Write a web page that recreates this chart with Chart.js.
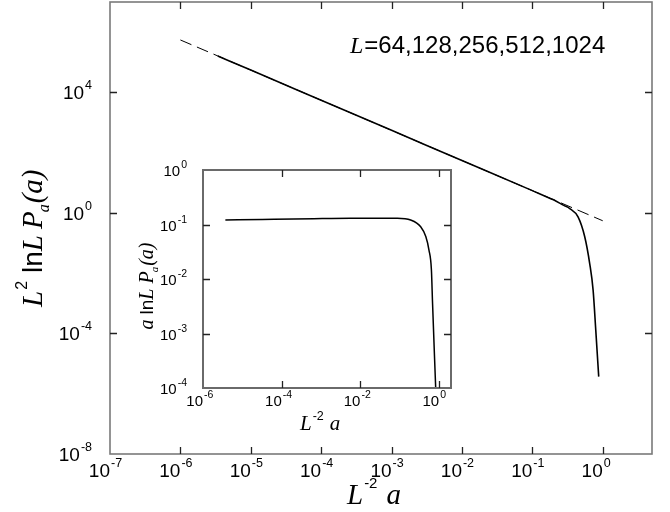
<!DOCTYPE html>
<html>
<head>
<meta charset="utf-8">
<script src="https://cdn.jsdelivr.net/npm/chart.js"></script>
<style>
  html, body { margin: 0; padding: 0; background: #fff; }
  #wrap { position: relative; width: 670px; height: 512px; overflow: hidden; }
  #main { position: absolute; left: 0; top: 0; }
  #inset { position: absolute; left: 120px; top: 160px; }
</style>
</head>
<body>
<div id="wrap">
  <canvas id="main" width="670" height="512"></canvas>
  <canvas id="inset" width="340" height="280"></canvas>
</div>
<script>
// Main panel: collapsed distribution L^2 lnL P_a(a) against L^-2 a
const refLineX = [1e-6, 1];            // dashed power-law guide
const refLineY = [5.5e5, 0.55];
const collapseX = [3.4e-6, 1e-5, 1e-4, 1e-3, 1e-2, 0.1, 0.2, 0.28, 0.34, 0.446, 0.555, 0.653, 0.73, 0.796, 0.877];
const collapseY = [1.62e5, 5.5e4, 5.5e3, 550, 55, 5.5, 2.72, 1.78, 1.40, 0.74, 0.162, 0.0209, 2.75e-3, 1.32e-4, 3.7e-6];

// Inset: a lnL P_a(a) against L^-2 a
const insetX = [3.7e-6, 3.2e-5, 6.5e-4, 5.6e-3, 0.087, 0.188, 0.339, 0.457, 0.55, 0.634, 0.679, 0.755, 0.815];
const insetY = [0.121, 0.124, 0.128, 0.13, 0.13, 0.121, 0.091, 0.060, 0.034, 0.0148, 3.5e-3, 4.3e-4, 1e-4];

// Decade exponents used for tick labels
const mainXTickExp = [-7, -6, -5, -4, -3, -2, -1, 0];
const mainYTickExp = [-8, -4, 0, 4];
const insetXTickExp = [-6, -4, -2, 0];
const insetYTickExp = [-4, -3, -2, -1, 0];

const systemSizes = '=64,128,256,512,1024';

const SANS = '"Liberation Sans", Arial, sans-serif';
const SERIF = '"Liberation Serif", "Times New Roman", serif';

function pts(xs, ys) { return xs.map((x, i) => ({ x: x, y: ys[i] })); }

// Draw a sequence of text runs: [text, font, dy, gapAfter]
function drawRuns(ctx, runs, x, y, align) {
  let total = 0;
  const widths = runs.map(r => {
    ctx.font = r[1];
    const w = ctx.measureText(r[0]).width;
    total += w + (r[3] || 0);
    return w;
  });
  let cx = align === 'center' ? x - total / 2 : (align === 'right' ? x - total : x);
  ctx.textAlign = 'left';
  ctx.textBaseline = 'alphabetic';
  runs.forEach((r, i) => {
    ctx.font = r[1];
    ctx.fillText(r[0], cx, y + (r[2] || 0));
    cx += widths[i] + (r[3] || 0);
  });
}

function powerLabel(ctx, exp, x, y, baseFont, expFont, expRise, mode) {
  // mode 'x': "10" right edge at x; mode 'y': whole label right edge at x
  ctx.textBaseline = 'alphabetic';
  ctx.font = baseFont;
  const bw = ctx.measureText('10').width;
  ctx.font = expFont;
  const ew = ctx.measureText(String(exp)).width;
  let bx = mode === 'x' ? x - bw : x - bw - ew - 1;
  ctx.textAlign = 'left';
  ctx.font = baseFont;
  ctx.fillText('10', bx, y);
  ctx.font = expFont;
  ctx.fillText(String(exp), bx + bw + 1, y - expRise);
}

function framePlugin(cfg) {
  return {
    id: 'frame_' + cfg.name,
    beforeDatasetsDraw(chart) {
      const a = chart.chartArea, ctx = chart.ctx;
      ctx.save();
      ctx.fillStyle = '#fff';
      ctx.fillRect(a.left, a.top, a.right - a.left, a.bottom - a.top);
      ctx.restore();
    },
    afterDatasetsDraw(chart) {
      const a = chart.chartArea, ctx = chart.ctx;
      const xs = chart.scales.x, ys = chart.scales.y;
      ctx.save();
      // frame
      ctx.strokeStyle = cfg.frameColor;
      ctx.lineWidth = cfg.frameWidth;
      ctx.strokeRect(a.left, a.top, a.right - a.left, a.bottom - a.top);
      // inward ticks
      ctx.strokeStyle = '#222';
      ctx.lineWidth = 1.3;
      ctx.beginPath();
      cfg.xTickExp.forEach(e => {
        const px = Math.round(xs.getPixelForValue(Math.pow(10, e))) + 0.5;
        if (px <= a.left + 2 || px >= a.right - 2) return;
        ctx.moveTo(px, a.bottom); ctx.lineTo(px, a.bottom - cfg.tickLen);
        ctx.moveTo(px, a.top); ctx.lineTo(px, a.top + cfg.tickLen);
      });
      cfg.yTickMarks.forEach(e => {
        const py = Math.round(ys.getPixelForValue(Math.pow(10, e))) + 0.5;
        if (py <= a.top + 2 || py >= a.bottom - 2) return;
        ctx.moveTo(a.left, py); ctx.lineTo(a.left + cfg.tickLen, py);
        ctx.moveTo(a.right, py); ctx.lineTo(a.right - cfg.tickLen, py);
      });
      ctx.stroke();
      // tick labels
      ctx.fillStyle = '#000';
      cfg.xLabelExp.forEach(e => {
        const px = xs.getPixelForValue(Math.pow(10, e));
        powerLabel(ctx, e, px, a.bottom + cfg.xLabelOffset, cfg.baseFont, cfg.expFont, cfg.expRise, 'x');
      });
      cfg.yLabelExp.forEach(e => {
        const py = ys.getPixelForValue(Math.pow(10, e));
        powerLabel(ctx, e, a.left - cfg.yLabelGap, py + cfg.yLabelShift, cfg.baseFont, cfg.expFont, cfg.expRise, 'y');
      });
      if (cfg.extra) cfg.extra(ctx, a);
      ctx.restore();
    }
  };
}

const hidden = { ticks: { display: false }, grid: { display: false }, border: { display: false } };

// ---------- main panel ----------
new Chart(document.getElementById('main'), {
  type: 'line',
  data: {
    datasets: [
      { data: pts(refLineX, refLineY), borderColor: '#000', borderWidth: 1, borderDash: [12, 6],
        pointRadius: 0, fill: false, tension: 0 },
      { data: pts(collapseX, collapseY), borderColor: '#000', borderWidth: 1.6,
        pointRadius: 0, fill: false, cubicInterpolationMode: 'monotone' }
    ]
  },
  options: {
    responsive: false, animation: false, devicePixelRatio: 1,
    layout: { padding: { top: 2, right: 18, left: 0, bottom: 0 } },
    plugins: { legend: { display: false }, tooltip: { enabled: false } },
    scales: {
      x: Object.assign({ type: 'logarithmic', min: 1e-7, max: Math.pow(10, 0.7),
        afterFit(s) { s.height = 58; } }, hidden),
      y: Object.assign({ type: 'logarithmic', min: 1e-8, max: 1e7,
        afterFit(s) { s.width = 110; } }, hidden)
    }
  },
  plugins: [framePlugin({
    name: 'main', frameColor: '#7a7a7a', frameWidth: 1.6, tickLen: 7,
    xTickExp: mainXTickExp, yTickMarks: [-4, 0, 4],
    xLabelExp: mainXTickExp, yLabelExp: mainYTickExp,
    baseFont: '19px ' + SANS, expFont: '12.5px ' + SANS, expRise: 10,
    xLabelOffset: 23, yLabelGap: 18, yLabelShift: 7,
    extra(ctx, a) {
      // series label
      drawRuns(ctx, [['L', 'italic 24px ' + SERIF, 0, 1], [systemSizes, '24px ' + SANS, 0, 0]], 350, 53, 'left');
      // x-axis title
      drawRuns(ctx, [['L', 'italic 29px ' + SERIF, 0, 1], ['-2', '15px ' + SANS, -16, 9], ['a', 'italic 29px ' + SERIF, 0, 0]], 347, 504, 'left');
      // y-axis title (rotated)
      ctx.save();
      ctx.translate(42, 307);
      ctx.rotate(-Math.PI / 2);
      drawRuns(ctx, [
        ['L', 'italic 29px ' + SERIF, 0, 1],
        ['2', '16px ' + SANS, -15, 8],
        ['ln', '28px ' + SANS, 0, 0],
        ['L', 'italic 29px ' + SERIF, 0, 6],
        ['P', 'italic 29px ' + SERIF, 0, -1],
        ['a', 'italic 16px ' + SERIF, 7, 1],
        ['(a)', 'italic 29px ' + SERIF, 0, 0]
      ], 0, 0, 'left');
      ctx.restore();
    }
  })]
});

// ---------- inset ----------
new Chart(document.getElementById('inset'), {
  type: 'line',
  data: {
    datasets: [
      { data: pts(insetX, insetY), borderColor: '#000', borderWidth: 1.5,
        pointRadius: 0, fill: false, cubicInterpolationMode: 'monotone' }
    ]
  },
  options: {
    responsive: false, animation: false, devicePixelRatio: 1,
    layout: { padding: { top: 10, right: 9, left: 0, bottom: 0 } },
    plugins: { legend: { display: false }, tooltip: { enabled: false } },
    scales: {
      x: Object.assign({ type: 'logarithmic', min: 1e-6, max: Math.pow(10, 0.3),
        afterFit(s) { s.height = 52; } }, hidden),
      y: Object.assign({ type: 'logarithmic', min: 1e-4, max: 1,
        afterFit(s) { s.width = 83; } }, hidden)
    }
  },
  plugins: [framePlugin({
    name: 'inset', frameColor: '#6a6a6a', frameWidth: 2, tickLen: 7,
    xTickExp: insetXTickExp, yTickMarks: [-3, -2, -1],
    xLabelExp: insetXTickExp, yLabelExp: insetYTickExp,
    baseFont: '15px ' + SANS, expFont: '10.5px ' + SANS, expRise: 8,
    xLabelOffset: 18, yLabelGap: 16, yLabelShift: 6,
    extra(ctx, a) {
      // x-axis title
      drawRuns(ctx, [['L', 'italic 21px ' + SERIF, 0, 1], ['-2', '12.5px ' + SANS, -10, 6], ['a', 'italic 21px ' + SERIF, 0, 0]], 180, 270, 'left');
      // y-axis title (rotated)
      ctx.save();
      ctx.translate(33, 126);
      ctx.rotate(-Math.PI / 2);
      drawRuns(ctx, [
        ['a', 'italic 20px ' + SERIF, 0, 5],
        ['ln', '19px ' + SANS, 0, 0],
        ['L', 'italic 20px ' + SERIF, 0, 5],
        ['P', 'italic 20px ' + SERIF, 0, -1],
        ['a', 'italic 11px ' + SERIF, 5, 1],
        ['(a)', 'italic 20px ' + SERIF, 0, 0]
      ], 0, 0, 'center');
      ctx.restore();
    }
  })]
});
</script>
</body>
</html>
